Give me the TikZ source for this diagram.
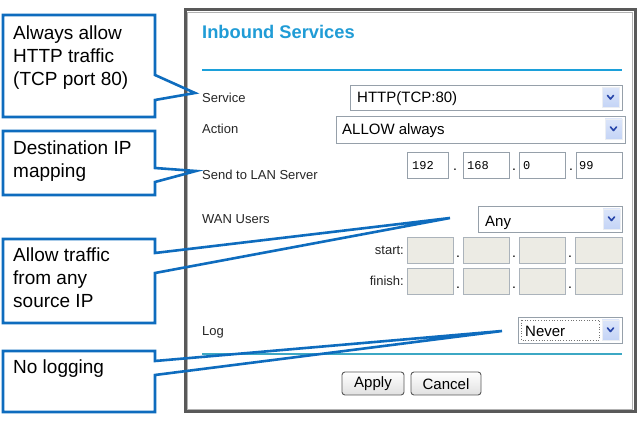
\documentclass[tikz,border=0pt]{standalone}
\usepackage{fontspec}
\setmainfont{Liberation Sans}
\setmonofont{Liberation Mono}
\definecolor{callblue}{RGB}{14,108,190}
\definecolor{titleblue}{RGB}{32,156,214}
\definecolor{ruleblue}{RGB}{28,160,218}
\definecolor{rulebot}{RGB}{60,168,196}
\definecolor{fieldborder}{RGB}{150,160,170}
\definecolor{disfill}{RGB}{236,235,228}
\definecolor{chev}{RGB}{40,70,170}
\definecolor{btnfill}{RGB}{196,212,246}
\tikzset{
  callout/.style={draw=callblue, line width=2.6pt, line join=miter},
  calltext/.style={anchor=base west, inner sep=0pt, align=left, font=\fontsize{19}{23}\selectfont},
  lbl/.style={anchor=base west, inner sep=0pt, font=\fontsize{13}{15}\selectfont, text=black!85},
  rlbl/.style={anchor=base east, inner sep=0pt, font=\fontsize{13}{15}\selectfont, text=black!85},
  ddtext/.style={anchor=base west, inner sep=0pt, font=\fontsize{15}{17}\selectfont},
  iptext/.style={anchor=base west, inner sep=0pt, font=\ttfamily\fontsize{12}{14}\selectfont},
  field/.style={draw=fieldborder, line width=0.8pt, fill=white},
  disfield/.style={draw=fieldborder!80, line width=0.8pt, fill=disfill},
  ipdot/.style={anchor=base, inner sep=0pt, font=\fontsize{14}{16}\selectfont},
  btn/.style={draw=black!65, line width=0.9pt, rounded corners=3pt, top color=white, bottom color=black!12},
  btntext/.style={inner sep=0pt, font=\fontsize{15}{17}\selectfont},
  ddarrow/.pic={
    \fill[top color=btnfill!60, bottom color=btnfill, draw=btnfill!80!black!20] (0,0) rectangle (17,20);
    \draw[chev, line width=1.6pt, line cap=round, line join=round] (5.5,8) -- (8.5,11.5) -- (11.5,8);
  }
}
\begin{document}
\begin{tikzpicture}[x=1pt,y=-1pt]
\useasboundingbox (0,0) rectangle (643,427);
\fill[white] (0,0) rectangle (643,427);

% screenshot panel
\draw[line width=3pt, black!65] (185,10) rectangle (635,412);
\draw[line width=1pt, black!30] (187.5,12.5) rectangle (632.5,409.5);

\node[anchor=base west, inner sep=0pt, font=\bfseries\fontsize{18.3}{20}\selectfont, text=titleblue] (title) at (202,39) {Inbound Services};
\draw[ruleblue, line width=2pt] (202,70) -- (622,70);

% Service
\node[lbl] (lsvc) at (202,103) {Service};
\draw[field] (350,85) rectangle (622,110);
\node[ddtext] (tsvc) at (357,103) {HTTP(TCP:80)};
\pic at (602,87.5) {ddarrow};

% Action
\node[lbl] (lact) at (202,134) {Action};
\draw[field] (336,116) rectangle (625,143);
\node[ddtext] (tact) at (342,134.5) {ALLOW always};
\pic at (605,119) {ddarrow};

% Send to LAN server
\node[lbl] (llan) at (202,180) {Send to LAN Server};
\draw[field] (407,152) rectangle (448,178);
\draw[field] (463,152) rectangle (509,178);
\draw[field] (519,152) rectangle (565,178);
\draw[field] (576,152) rectangle (622,178);
\node[iptext] (ip1) at (412,170) {192};
\node[iptext] (ip2) at (467,170) {168};
\node[iptext] (ip3) at (523,170) {0};
\node[iptext] (ip4) at (579,170) {99};
\node[ipdot] (d1) at (455,171) {.};
\node[ipdot] (d2) at (514,171) {.};
\node[ipdot] (d3) at (571,171) {.};

% WAN users
\node[lbl] (lwan) at (202,224) {WAN Users};
\draw[field] (478,206) rectangle (622,232);
\node[ddtext] (tany) at (485,227) {Any};
\pic at (603,209) {ddarrow};

\node[rlbl] (lstart) at (404,255) {start:};
\draw[disfield] (407,237) rectangle (453,263);
\draw[disfield] (463,237) rectangle (509,263);
\draw[disfield] (519,237) rectangle (565,263);
\draw[disfield] (575,237) rectangle (622,263);
\node[ipdot] (sd1) at (458,258) {.};
\node[ipdot] (sd2) at (514,258) {.};
\node[ipdot] (sd3) at (570,258) {.};

\node[rlbl] (lfin) at (404,286) {finish:};
\draw[disfield] (407,268) rectangle (453,294);
\draw[disfield] (463,268) rectangle (509,294);
\draw[disfield] (519,268) rectangle (565,294);
\draw[disfield] (575,268) rectangle (622,294);
\node[ipdot] (fd1) at (458,289) {.};
\node[ipdot] (fd2) at (514,289) {.};
\node[ipdot] (fd3) at (570,289) {.};

% Log
\node[lbl] (llog) at (202,336) {Log};
\draw[field] (518,317) rectangle (622,343);
\draw[black!55, dotted, line width=0.7pt] (521,320) rectangle (599,340);
\node[ddtext] (tnever) at (525,337) {Never};
\pic at (602,320) {ddarrow};

\draw[rulebot, line width=2pt] (202,354) -- (622,354);

% Buttons
\draw[btn] (342,372) rectangle (404,395);
\node[btntext] (apply) at (373,384) {Apply};
\draw[btn] (411,372) rectangle (481,395);
\node[btntext] (cancel) at (446,384) {Cancel};

% Callouts
\coordinate (tip1) at (195,93);
\coordinate (tip2) at (196,171);
\coordinate (tip3) at (450,218);
\coordinate (tip4) at (502,331);

\draw[callout] (155,75) -- (tip1) -- (155,100) -- (155,117) -- (3,117) -- (3,15) -- (155,15) -- cycle;
\node[calltext] (c1) at (13,86) {Always allow\\HTTP traffic\\(TCP port 80)};

\draw[callout] (155,168) -- (tip2) -- (155,182) -- (155,195) -- (3,195) -- (3,131) -- (155,131) -- cycle;
\node[calltext] (c2) at (13,178) {Destination IP\\mapping};

\draw[callout] (155,253) -- (tip3) -- (155,273) -- (155,323) -- (3,323) -- (3,239) -- (155,239) -- cycle;
\node[calltext] (c3) at (13,308) {Allow traffic\\from any\\source IP};

\draw[callout] (155,361) -- (tip4) -- (155,375) -- (155,412) -- (3,412) -- (3,351) -- (155,351) -- cycle;
\node[calltext] (c4) at (13,374) {No logging};
\end{tikzpicture}
\end{document}
